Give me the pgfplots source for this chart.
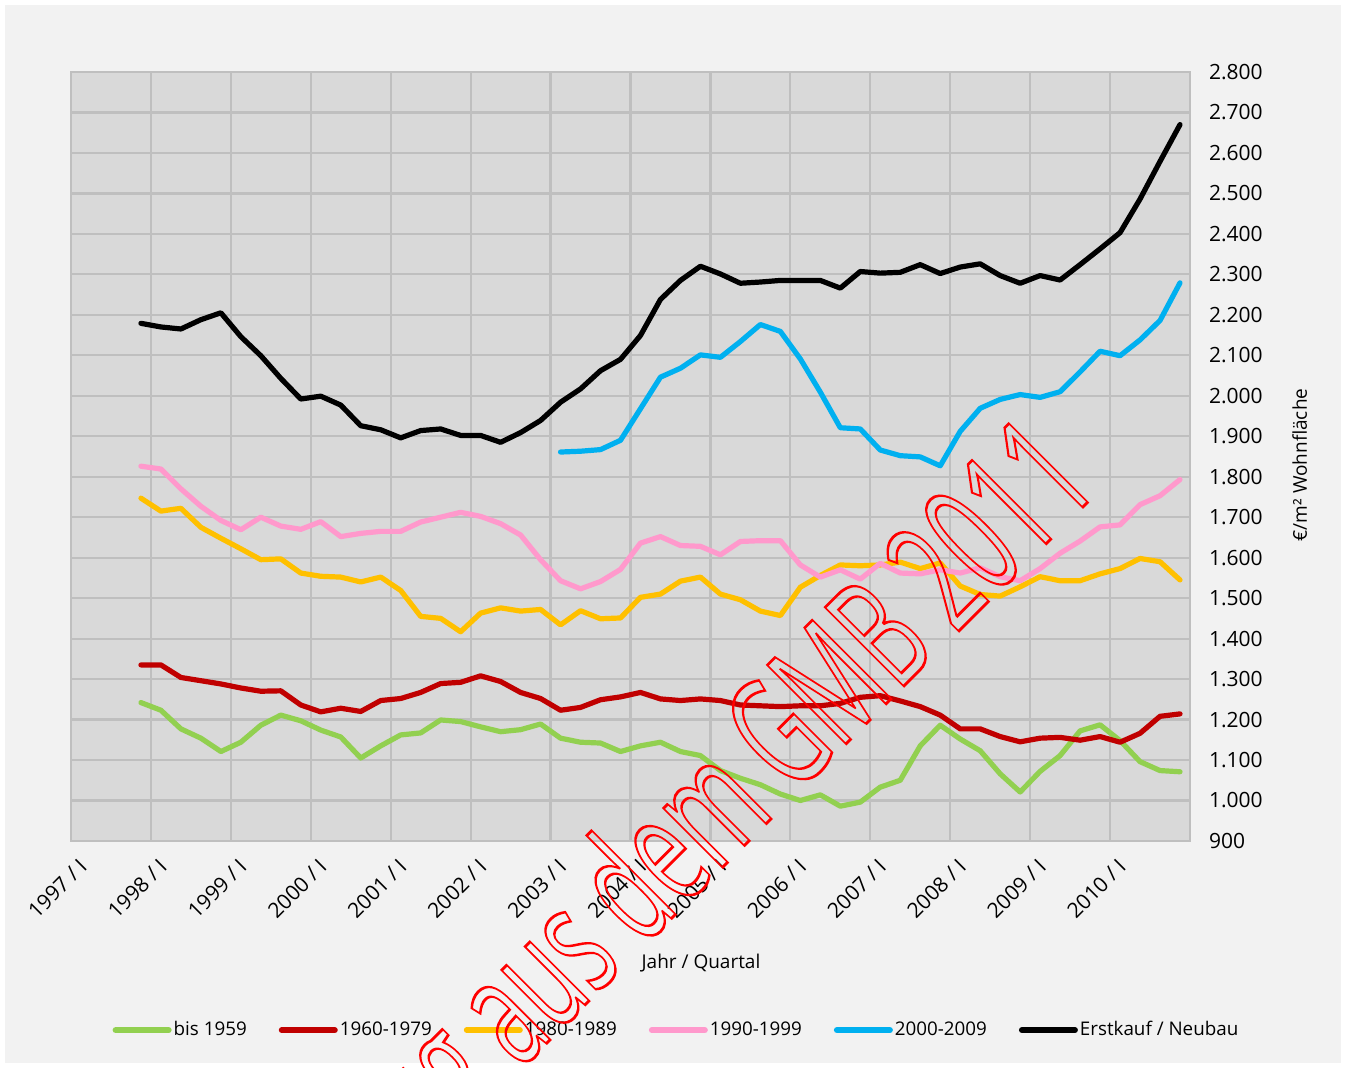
\documentclass[border=0pt]{standalone}
\usepackage{fontspec}
\setmainfont{Open Sans}
\usepackage{pgfplots}
\pgfplotsset{compat=1.18}
\usepackage{pgfplotstable}
\definecolor{cG}{HTML}{92D050}
\definecolor{cR}{HTML}{C00000}
\definecolor{cY}{HTML}{FFC000}
\definecolor{cP}{HTML}{FF99CC}
\definecolor{cB}{HTML}{00B0F0}
\definecolor{cK}{HTML}{000000}
\definecolor{outbg}{HTML}{F2F2F2}
\definecolor{plotbg}{HTML}{D9D9D9}
\definecolor{gridc}{HTML}{BFBFBF}

\pgfplotstableread{
x g r y p b k
3.5 1242 1335 1747 1826 nan 2179
4.5 1223 1335 1715 1819 nan 2170
5.5 1177 1304 1722 1770 nan 2165
6.5 1154 1296 1675 1727 nan 2188
7.5 1121 1288 1648 1692 nan 2205
8.5 1144 1278 1622 1669 nan 2146
9.5 1186 1270 1595 1700 nan 2099
10.5 1211 1271 1597 1678 nan 2043
11.5 1197 1236 1562 1670 nan 1992
12.5 1174 1219 1554 1689 nan 1999
13.5 1157 1228 1552 1652 nan 1977
14.5 1105 1220 1540 1660 nan 1926
15.5 1135 1247 1552 1665 nan 1916
16.5 1162 1252 1519 1665 nan 1896
17.5 1167 1267 1455 1688 nan 1914
18.5 1199 1289 1450 1700 nan 1918
19.5 1195 1292 1417 1712 nan 1902
20.5 1182 1308 1463 1702 nan 1902
21.5 1170 1294 1476 1684 nan 1885
22.5 1175 1267 1468 1656 nan 1909
23.5 1189 1252 1472 1595 nan 1939
24.5 1154 1223 1434 1543 1861 1984
25.5 1144 1230 1469 1523 1863 2017
26.5 1142 1249 1449 1541 1867 2062
27.5 1121 1256 1451 1571 1890 2090
28.5 1135 1267 1502 1636 1968 2149
29.5 1144 1251 1510 1652 2046 2238
30.5 1121 1247 1542 1630 2068 2285
31.5 1111 1251 1552 1628 2101 2320
32.5 1074 1247 1510 1607 2095 2301
33.5 1055 1236 1496 1640 2134 2278
34.5 1039 1234 1468 1642 2176 2281
35.5 1016 1232 1457 1642 2159 2285
36.5 1000 1234 1527 1582 2091 2285
37.5 1014 1234 1556 1552 2009 2285
38.5 986 1240 1582 1570 1921 2266
39.5 996 1255 1580 1547 1918 2307
40.5 1033 1259 1582 1586 1866 2303
41.5 1050 1246 1589 1562 1852 2305
42.5 1135 1232 1573 1560 1849 2324
43.5 1186 1211 1587 1570 1827 2302
44.5 1152 1177 1530 1562 1912 2318
45.5 1123 1177 1509 1575 1969 2326
46.5 1066 1158 1505 1553 1991 2297
47.5 1021 1145 1528 1543 2003 2278
48.5 1072 1154 1553 1573 1996 2297
49.5 1111 1156 1543 1611 2010 2286
50.5 1172 1149 1543 1641 2059 2324
51.5 1187 1158 1560 1676 2110 2363
52.5 1148 1144 1573 1681 2099 2403
53.5 1096 1166 1598 1731 2138 2486
54.5 1074 1208 1590 1753 2186 2579
55.5 1071 1214 1545 1793 2279 2670
}\data

\begin{document}
\begin{tikzpicture}
\useasboundingbox (0,0) rectangle (673pt,534pt);
\fill[white] (0,0) rectangle (673pt,534pt);
\fill[outbg] (2.5pt,2.5pt) rectangle (670.5pt,531.5pt);
\begin{axis}[
  at={(35.5pt,113.5pt)}, anchor=south west,
  scale only axis, width=559.5pt, height=384.5pt,
  xmin=0, xmax=56, ymin=900, ymax=2800,
  xtick={0,4,...,52},
  xticklabels={1997 / I,1998 / I,1999 / I,2000 / I,2001 / I,2002 / I,2003 / I,2004 / I,2005 / I,2006 / I,2007 / I,2008 / I,2009 / I,2010 / I},
  ytick={900,1000,...,2800},
  grid=major,
  major grid style={gridc, line width=1.1pt},
  axis line style={gridc, line width=1.1pt},
  axis background/.style={fill=plotbg},
  major tick length=0pt,
  tick style={draw=none},
  yticklabel pos=right,
  /pgf/number format/assume math mode=true,
  /pgf/number format/.cd, 1000 sep={.}, fixed, precision=0,
  /pgfplots/.cd,
  yticklabel style={anchor=west, xshift=6pt, font=\fontsize{10.5}{12}\selectfont},
  xticklabel style={rotate=45, anchor=east, font=\fontsize{10.5}{12}\selectfont, xshift=0pt, yshift=-12pt},
  every axis x label/.style={at={(axis description cs:0.563,-0.159)}, anchor=center, font=\fontsize{9.5}{12}\selectfont},
  every axis y label/.style={at={(axis description cs:1.098,0.489)}, anchor=center, rotate=90, font=\fontsize{9.5}{12}\selectfont},
  xlabel={Jahr / Quartal},
  ylabel={€/m² Wohnfläche},
  legend columns=6,
  legend style={at={(axis description cs:0.542,-0.246)}, anchor=center, draw=none, fill=none,
    font=\fontsize{9.4}{12}\selectfont,
    /tikz/every odd column/.append style={column sep=-1pt},
    /tikz/every even column/.append style={column sep=14pt}},
  legend image code/.code={\draw[#1, line width=3pt] (0pt,0pt) -- (26.5pt,0pt);},
  every axis plot/.append style={line width=2.6pt, line join=round, line cap=round, mark=none},
]
\addplot[cG] table[x=x, y=g] {\data};
\addlegendentry{bis 1959}
\addplot[cR] table[x=x, y=r] {\data};
\addlegendentry{1960-1979}
\addplot[cY] table[x=x, y=y] {\data};
\addlegendentry{1980-1989}
\addplot[cP] table[x=x, y=p] {\data};
\addlegendentry{1990-1999}
\addplot[cB] table[x=x, y=b] {\data};
\addlegendentry{2000-2009}
\addplot[cK] table[x=x, y=k] {\data};
\addlegendentry{Erstkauf / Neubau}
\end{axis}
\begin{scope}
\clip (0,0) rectangle (673pt,534pt);
\node[anchor=base east, rotate=45, xscale=0.58, inner sep=0pt, text=red,
  font=\fontsize{78}{78}\selectfont] at (551pt,290pt)
  {\special{pdf:literal direct 1 Tr 1 0 0 RG 1.4 w}Auszug aus dem GMB 2011\special{pdf:literal direct 0 Tr}};
\end{scope}
\end{tikzpicture}
\end{document}
